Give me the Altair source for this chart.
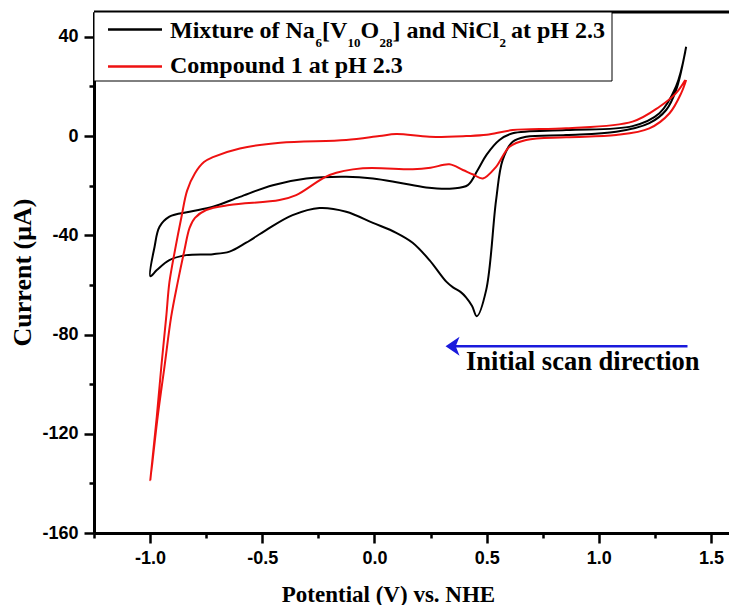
import altair as alt
import pandas as pd

# ---- data (potential V vs NHE, current uA) ----
black_x = [1.389, 1.344, 1.300, 1.225, 1.077, 0.854, 0.676, 0.616, 0.571, 0.542,
           0.498, 0.456, 0.435, 0.408, 0.386, 0.350, 0.320, 0.245, 0.170, 0.097,
           -0.007, -0.126, -0.245, -0.365, -0.483, -0.572, -0.646, -0.720, -0.839, -0.914,
           -0.970, -0.999,
           -0.980, -0.958, -0.914, -0.824, -0.720, -0.600, -0.453, -0.304, -0.126, -0.007,
           0.111, 0.230, 0.349, 0.416, 0.460, 0.500, 0.557, 0.616, 0.854, 1.150,
           1.270, 1.344, 1.385]
black_y = [36.0, 18.5, 10.5, 5.2, 1.7, 0.4, -0.3, -2.3, -9.7, -25.8,
           -62.0, -72.6, -68.5, -65.0, -63.0, -61.0, -58.7, -50.0, -43.0, -39.0,
           -35.0, -30.5, -29.0, -31.9, -37.9, -43.0, -46.6, -47.6, -48.0, -50.0,
           -54.0, -56.5,
           -44.6, -36.6, -32.5, -30.5, -28.5, -24.5, -19.8, -17.1, -16.4, -17.1,
           -18.8, -20.7, -21.1, -19.8, -13.7, -7.5, -1.6, 1.1, 2.4, 4.0,
           9.2, 20.0, 34.0]

red_x = [1.389, 1.367, 1.315, 1.225, 1.077, 0.854, 0.676, 0.602, 0.542, 0.483,
         0.440, 0.394, 0.334, 0.250, 0.171, -0.052, -0.200, -0.349, -0.423, -0.646,
         -0.750, -0.800, -0.824, -0.847, -0.877, -0.906, -0.936, -0.966, -0.999,
         -0.970, -0.950, -0.928, -0.914, -0.889, -0.860, -0.835, -0.800, -0.760, -0.720,
         -0.600, -0.420, -0.126, 0.022, 0.097, 0.245, 0.409, 0.500, 0.616, 0.854,
         1.150, 1.270, 1.344, 1.385]
red_y = [22.6, 17.3, 9.2, 3.1, 0.4, -0.5, -1.6, -4.3, -12.4, -17.1,
         -15.5, -13.7, -11.4, -12.8, -13.4, -13.0, -15.7, -23.8, -25.8, -27.8,
         -29.8, -33.0, -37.0, -46.0, -59.0, -72.8, -93.0, -113.0, -138.7,
         -113.0, -93.0, -72.8, -59.0, -46.0, -32.5, -22.0, -15.0, -10.5, -8.5,
         -5.0, -2.7, -1.6, 0.0, 0.8, -0.3, 0.0, 0.5, 2.4, 3.1,
         5.8, 11.8, 17.3, 22.6]

x_ticks = [-1.25, -1.0, -0.75, -0.5, -0.25, 0.0, 0.25, 0.5, 0.75, 1.0, 1.25, 1.5]
y_ticks = [-160, -140, -120, -100, -80, -60, -40, -20, 0, 20, 40]

arrow_x = [0.348, 1.395]
arrow_y = -84.7

W, H = 635, 521
SERIF = "Liberation Serif"
SANS = "Liberation Sans"

df_black = pd.DataFrame({"x": black_x, "y": black_y, "order": list(range(len(black_x)))})
df_red = pd.DataFrame({"x": red_x, "y": red_y, "order": list(range(len(red_x)))})

xscale = alt.Scale(domain=[-1.25, 1.58], nice=False, zero=False)
yscale = alt.Scale(domain=[-160, 50], nice=False, zero=False)

xmajor = "abs(datum.value*2 - round(datum.value*2)) < 0.001"
ymajor = "abs(datum.value % 40) < 0.001"

xaxis = alt.Axis(
    values=x_ticks, format=".1f",
    labelExpr=f"{xmajor} ? replace(datum.label, '\u2212', '-') : ''",
    tickSize={"condition": {"test": xmajor, "value": 10}, "value": 5},
    title="Potential (V) vs. NHE", titleFontSize=23,
    titleX=294, titleY=68, titleBaseline="alphabetic", titleAlign="center", titleAnchor="start",
    labelPadding=6,
)
yaxis = alt.Axis(
    values=y_ticks,
    labelExpr=f"{ymajor} ? replace(datum.label, '\u2212', '-') : ''",
    tickSize={"condition": {"test": ymajor, "value": 10}, "value": 5},
    title="Current (\u03bcA)", titleFontSize=26,
    titleX=-72, titleY=260, titleAngle=270, titleBaseline="middle", titleAlign="center", titleAnchor="start",
    labelPadding=6,
)

black = alt.Chart(df_black).mark_line(color="black", strokeWidth=2, interpolate="catmull-rom").encode(
    x=alt.X("x:Q", scale=xscale, axis=xaxis),
    y=alt.Y("y:Q", scale=yscale, axis=yaxis),
    order="order:Q",
)
red = alt.Chart(df_red).mark_line(color="#ee1111", strokeWidth=2, interpolate="catmull-rom").encode(
    x=alt.X("x:Q", scale=xscale),
    y=alt.Y("y:Q", scale=yscale),
    order="order:Q",
)

dummy = alt.Data(values=[{}])

top_border = alt.Chart(dummy).mark_rule(color="black", strokeWidth=3).encode(
    x=alt.value(0), x2=alt.value(W), y=alt.value(0))

legend_box = alt.Chart(dummy).mark_rect(fill="white", stroke="black", strokeWidth=1).encode(
    x=alt.value(0), x2=alt.value(518), y=alt.value(0), y2=alt.value(69))

leg_black = alt.Chart(dummy).mark_rule(color="black", strokeWidth=2.5).encode(
    x=alt.value(14), x2=alt.value(68), y=alt.value(17.5))
leg_red = alt.Chart(dummy).mark_rule(color="#ee1111", strokeWidth=2.5).encode(
    x=alt.value(14), x2=alt.value(68), y=alt.value(54.5))

# legend text pieces: (text, x px from plot left, baseline px from plot top, size)
pieces = [
    ("Mixture of Na", 76, 26, 24),
    ("6", 221.5, 34.5, 13),
    ("[V", 228, 26, 24),
    ("10", 253.5, 34.5, 13),
    ("O", 266.5, 26, 24),
    ("28", 285.5, 34.5, 13),
    ("] and NiCl", 298.5, 26, 24),
    ("2", 405.5, 34.5, 13),
    ("at pH 2.3", 417, 26, 24),
    ("Compound 1 at pH 2.3", 76, 61, 24),
]
text_layers = []
for t, px, py, s in pieces:
    text_layers.append(
        alt.Chart(dummy).mark_text(align="left", baseline="alphabetic", font=SERIF,
                                   fontWeight="bold", fontSize=s, color="black").encode(
            x=alt.value(px), y=alt.value(py), text=alt.value(t))
    )

arrow_line = alt.Chart(dummy).mark_rule(color="#1a1adc", strokeWidth=2.5).encode(
    x=alt.datum(arrow_x[0]), x2=alt.datum(arrow_x[1]), y=alt.datum(arrow_y))
arrow_head = alt.Chart(dummy).mark_point(
    shape="M-1,0L1,-1.35L0.45,0L1,1.35Z", filled=True, size=196, color="#1a1adc", opacity=1).encode(
    x=alt.datum(arrow_x[0]), y=alt.datum(arrow_y))
arrow_text = alt.Chart(dummy).mark_text(align="left", baseline="alphabetic", font=SERIF,
                                        fontWeight="bold", fontSize=26.5, color="black").encode(
    x=alt.value(372), y=alt.value(358), text=alt.value("Initial scan direction"))

chart = alt.layer(
    black, red, top_border, legend_box, leg_black, leg_red, *text_layers,
    arrow_line, arrow_head, arrow_text,
).properties(
    width=W, height=H,
    autosize=alt.AutoSizeParams(type="none"),
    padding={"left": 94, "top": 12, "right": 0, "bottom": 72},
    background="white",
).configure_view(stroke=None).configure_axis(
    labelFont=SANS, labelFontWeight="bold", labelFontSize=18, labelColor="black",
    titleFont=SERIF, titleFontWeight="bold", titleFontSize=24, titleColor="black",
    domainColor="black", domainWidth=3, tickColor="black", tickWidth=2.5, grid=False,
)

chart.save("out.html", embed_options={"renderer": "svg", "actions": False})
